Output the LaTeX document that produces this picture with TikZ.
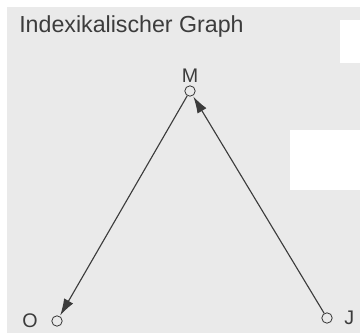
\documentclass[tikz,border=0pt]{standalone}
\usepackage{fontspec}
\setmainfont{Liberation Sans}
\usepackage{xcolor}
\definecolor{paper}{RGB}{234,234,234}
\definecolor{inkgray}{RGB}{60,60,60}
\usepackage{tikz}
\usetikzlibrary{arrows.meta,positioning}

\begin{document}
\begin{tikzpicture}[x=0.025cm,y=-0.025cm]
  \tikzstyle{vertex}=[circle,draw=inkgray,fill=paper,line width=0.6pt,inner sep=0pt,minimum size=0.26cm]
  \tikzstyle{vlabel}=[inkgray,font=\fontsize{14}{16}\selectfont,inner sep=1pt]
  \tikzstyle{edge}=[-{Latex[length=4.2mm,width=2.6mm]},inkgray,line width=0.8pt,shorten >=0.5pt]
  \useasboundingbox (0,0) rectangle (360,333);
  % scanned page
  \fill[paper] (7,7) rectangle (360,333);
  \fill[white] (340,20) rectangle (360,63);
  \fill[white] (290,130) rectangle (360,190);
  \node[inkgray,anchor=west,font=\fontsize{16.5}{19}\selectfont,inner sep=0pt] (title) at (19,27) {Indexikalischer Graph};
  % graph
  \node[vertex] (m) at (190,91) {};
  \node[vertex] (o) at (57,321) {};
  \node[vertex] (j) at (327,318) {};
  \node[vlabel,above=0.03cm of m] (mlab) {M};
  \node[vlabel,left=0.3cm of o] (olab) {O};
  \node[vlabel,right=0.25cm of j] (jlab) {J};
  \draw[edge] (m) -- (o);
  \draw[edge] (j) -- (m);
\end{tikzpicture}
\end{document}
